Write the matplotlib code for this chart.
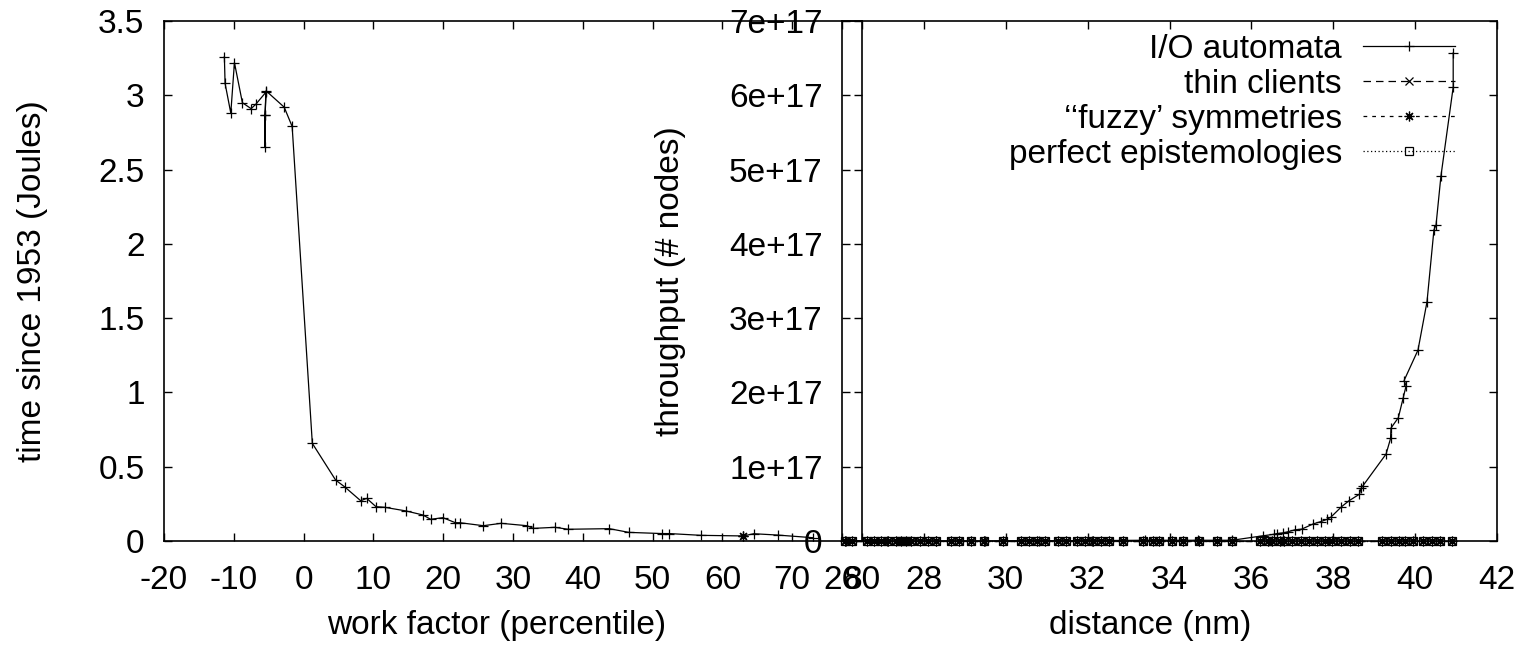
import matplotlib
matplotlib.use("Agg")
import matplotlib.pyplot as plt
from matplotlib.ticker import FuncFormatter

plt.rcParams['font.family'] = ['Liberation Sans', 'DejaVu Sans']
plt.rcParams['font.size'] = 24
plt.rcParams['axes.unicode_minus'] = False

# left panel: time since 1953 vs work factor
io_left_x = [-11.35, -11.25, -10.43, -9.91, -8.77, -7.52, -6.84, -5.41, -5.51, -5.55,
             -5.51, -5.38, -2.78, -1.64, 1.25, 4.59, 5.87, 8.18, 9.04, 10.37, 11.6,
             14.7, 17.1, 18.2, 19.96, 21.75, 22.4, 25.75, 28.3, 32.0, 32.9, 36.0,
             37.9, 43.8, 46.6, 51.4, 52.4, 57.0, 63.0, 64.5, 67.9, 73.0]
io_left_y = [3.26, 3.08, 2.88, 3.22, 2.95, 2.91, 2.94, 3.02, 2.87, 2.65,
             2.87, 3.03, 2.92, 2.79, 0.657, 0.41, 0.365, 0.271, 0.287, 0.231, 0.227,
             0.202, 0.175, 0.146, 0.157, 0.123, 0.123, 0.103, 0.119, 0.103, 0.085, 0.092,
             0.079, 0.083, 0.058, 0.05, 0.05, 0.038, 0.034, 0.049, 0.040, 0.022]
fuzzy_left_x = [62.9]
fuzzy_left_y = [0.034]

# right panel: throughput vs distance
io_right_x = [26.1, 27.1, 28.3, 29.5, 30.8, 32.1, 33.4, 34.7, 35.53, 36.28, 36.55,
              36.62, 36.78, 36.9, 37.06, 37.23, 37.51, 37.69, 37.84, 37.94, 38.2,
              38.38, 38.64, 38.68, 38.72, 39.29, 39.4, 39.41, 39.59, 39.71, 39.78,
              39.73, 40.07, 40.29, 40.46, 40.51, 40.63, 40.93, 40.93]
io_right_y = [0, 0, 0, 0, 0.005, 0.005, 0.01, 0.01, 0.01, 0.07, 0.09,
              0.10, 0.11, 0.125, 0.15, 0.16, 0.23, 0.26, 0.29, 0.32, 0.46,
              0.54, 0.63, 0.71, 0.74, 1.17, 1.38, 1.52, 1.66, 1.93, 2.09,
              2.16, 2.57, 3.22, 4.19, 4.25, 4.91, 6.11, 6.57]  # x 1e17

strip_x = [26.07, 26.24, 26.61, 26.78, 26.95, 27.12, 27.32, 27.44, 27.56, 27.69,
           27.9, 28.1, 28.3, 28.66, 28.86, 29.15, 29.47, 29.93, 30.37, 30.57,
           30.76, 30.96, 31.28, 31.47, 31.74, 31.93, 32.13, 32.33, 32.52, 32.86,
           33.35, 33.6, 33.74, 34.06, 34.33, 34.72, 35.16, 35.53, 36.2, 36.4,
           36.5, 36.7, 36.8, 37.0, 37.2, 37.4, 37.6, 37.8, 37.97, 38.2,
           38.4, 38.6, 39.2, 39.4, 39.6, 39.75, 39.95, 40.2, 40.4, 40.6, 40.9]
thin_x = strip_x
thin_y = [0.0] * len(strip_x)
fuzzy_x = strip_x
fuzzy_y = [0.0] * len(strip_x)
perfect_x = strip_x
perfect_y = [0.0] * len(strip_x)

labels = ['I/O automata', 'thin clients', '\u2018\u2018fuzzy\u2019 symmetries', 'perfect epistemologies']

star = (8, 2, 0)
lw = 0.9
ms = 7

fig = plt.figure(figsize=(15.23, 6.48), dpi=100)
ax1 = fig.add_axes([164 / 1523, 107 / 648, 698 / 1523, 520 / 648])
ax2 = fig.add_axes([842 / 1523, 107 / 648, 655 / 1523, 520 / 648])
ax2.set_facecolor('none')

ax1.plot(io_left_x, io_left_y, color='black', lw=lw, marker='+', ms=ms, mew=lw)
ax1.plot(fuzzy_left_x, fuzzy_left_y, color='black', lw=0, marker=star, ms=ms, mew=lw)
ax1.set_xlim(-20, 80)
ax1.set_ylim(0, 3.5)
ax1.set_xticks(range(-20, 81, 10))
ax1.set_yticks([0, 0.5, 1, 1.5, 2, 2.5, 3, 3.5])
ax1.yaxis.set_major_formatter(FuncFormatter(lambda v, p: f'{v:g}'))
ax1.set_xlabel('work factor (percentile)')
ax1.set_ylabel('time since 1953 (Joules)')
ax1.xaxis.set_label_coords(0.477, -0.133)
ax1.yaxis.set_label_coords(-0.166, 0.5)

ax2.plot(io_right_x, [v * 1e17 for v in io_right_y], color='black', lw=lw,
         marker='+', ms=ms, mew=lw, label=labels[0], clip_on=False)
ax2.plot(thin_x, thin_y, color='black', lw=lw, ls=(0, (6, 4)),
         marker='x', ms=ms * 0.8, mew=lw, label=labels[1], clip_on=False)
ax2.plot(fuzzy_x, fuzzy_y, color='black', lw=lw, ls=(0, (3, 4)),
         marker=star, ms=ms, mew=lw, label=labels[2], clip_on=False)
ax2.plot(perfect_x, perfect_y, color='black', lw=lw, ls=(0, (1, 2)),
         marker='s', ms=ms * 0.9, mew=lw, mfc='none', label=labels[3], clip_on=False)
ax2.set_xlim(26, 42)
ax2.set_ylim(0, 7e17)
ax2.set_xticks(range(26, 43, 2))
ax2.set_yticks([i * 1e17 for i in range(8)])
ax2.yaxis.set_major_formatter(FuncFormatter(lambda v, p: '0' if v == 0 else f'{v / 1e17:.0f}e+17'))
ax2.set_xlabel('distance (nm)')
ax2.set_ylabel('throughput (# nodes)')
ax2.xaxis.set_label_coords(0.470, -0.133)
ax2.yaxis.set_label_coords(-0.238, 0.5)

for ax in (ax1, ax2):
    ax.tick_params(direction='in', top=True, right=True, length=6, width=1)
    ax.tick_params(axis='x', pad=17)
    ax.tick_params(axis='y', pad=14)
    for s in ax.spines.values():
        s.set_linewidth(1.2)

ax2.legend(loc='upper right', bbox_to_anchor=(0.936, 0.975), frameon=False,
           markerfirst=False, handlelength=2.76, handletextpad=0.63,
           borderpad=0, borderaxespad=0, labelspacing=0.12, fontsize=24)

fig.savefig('out.png', dpi=100)
